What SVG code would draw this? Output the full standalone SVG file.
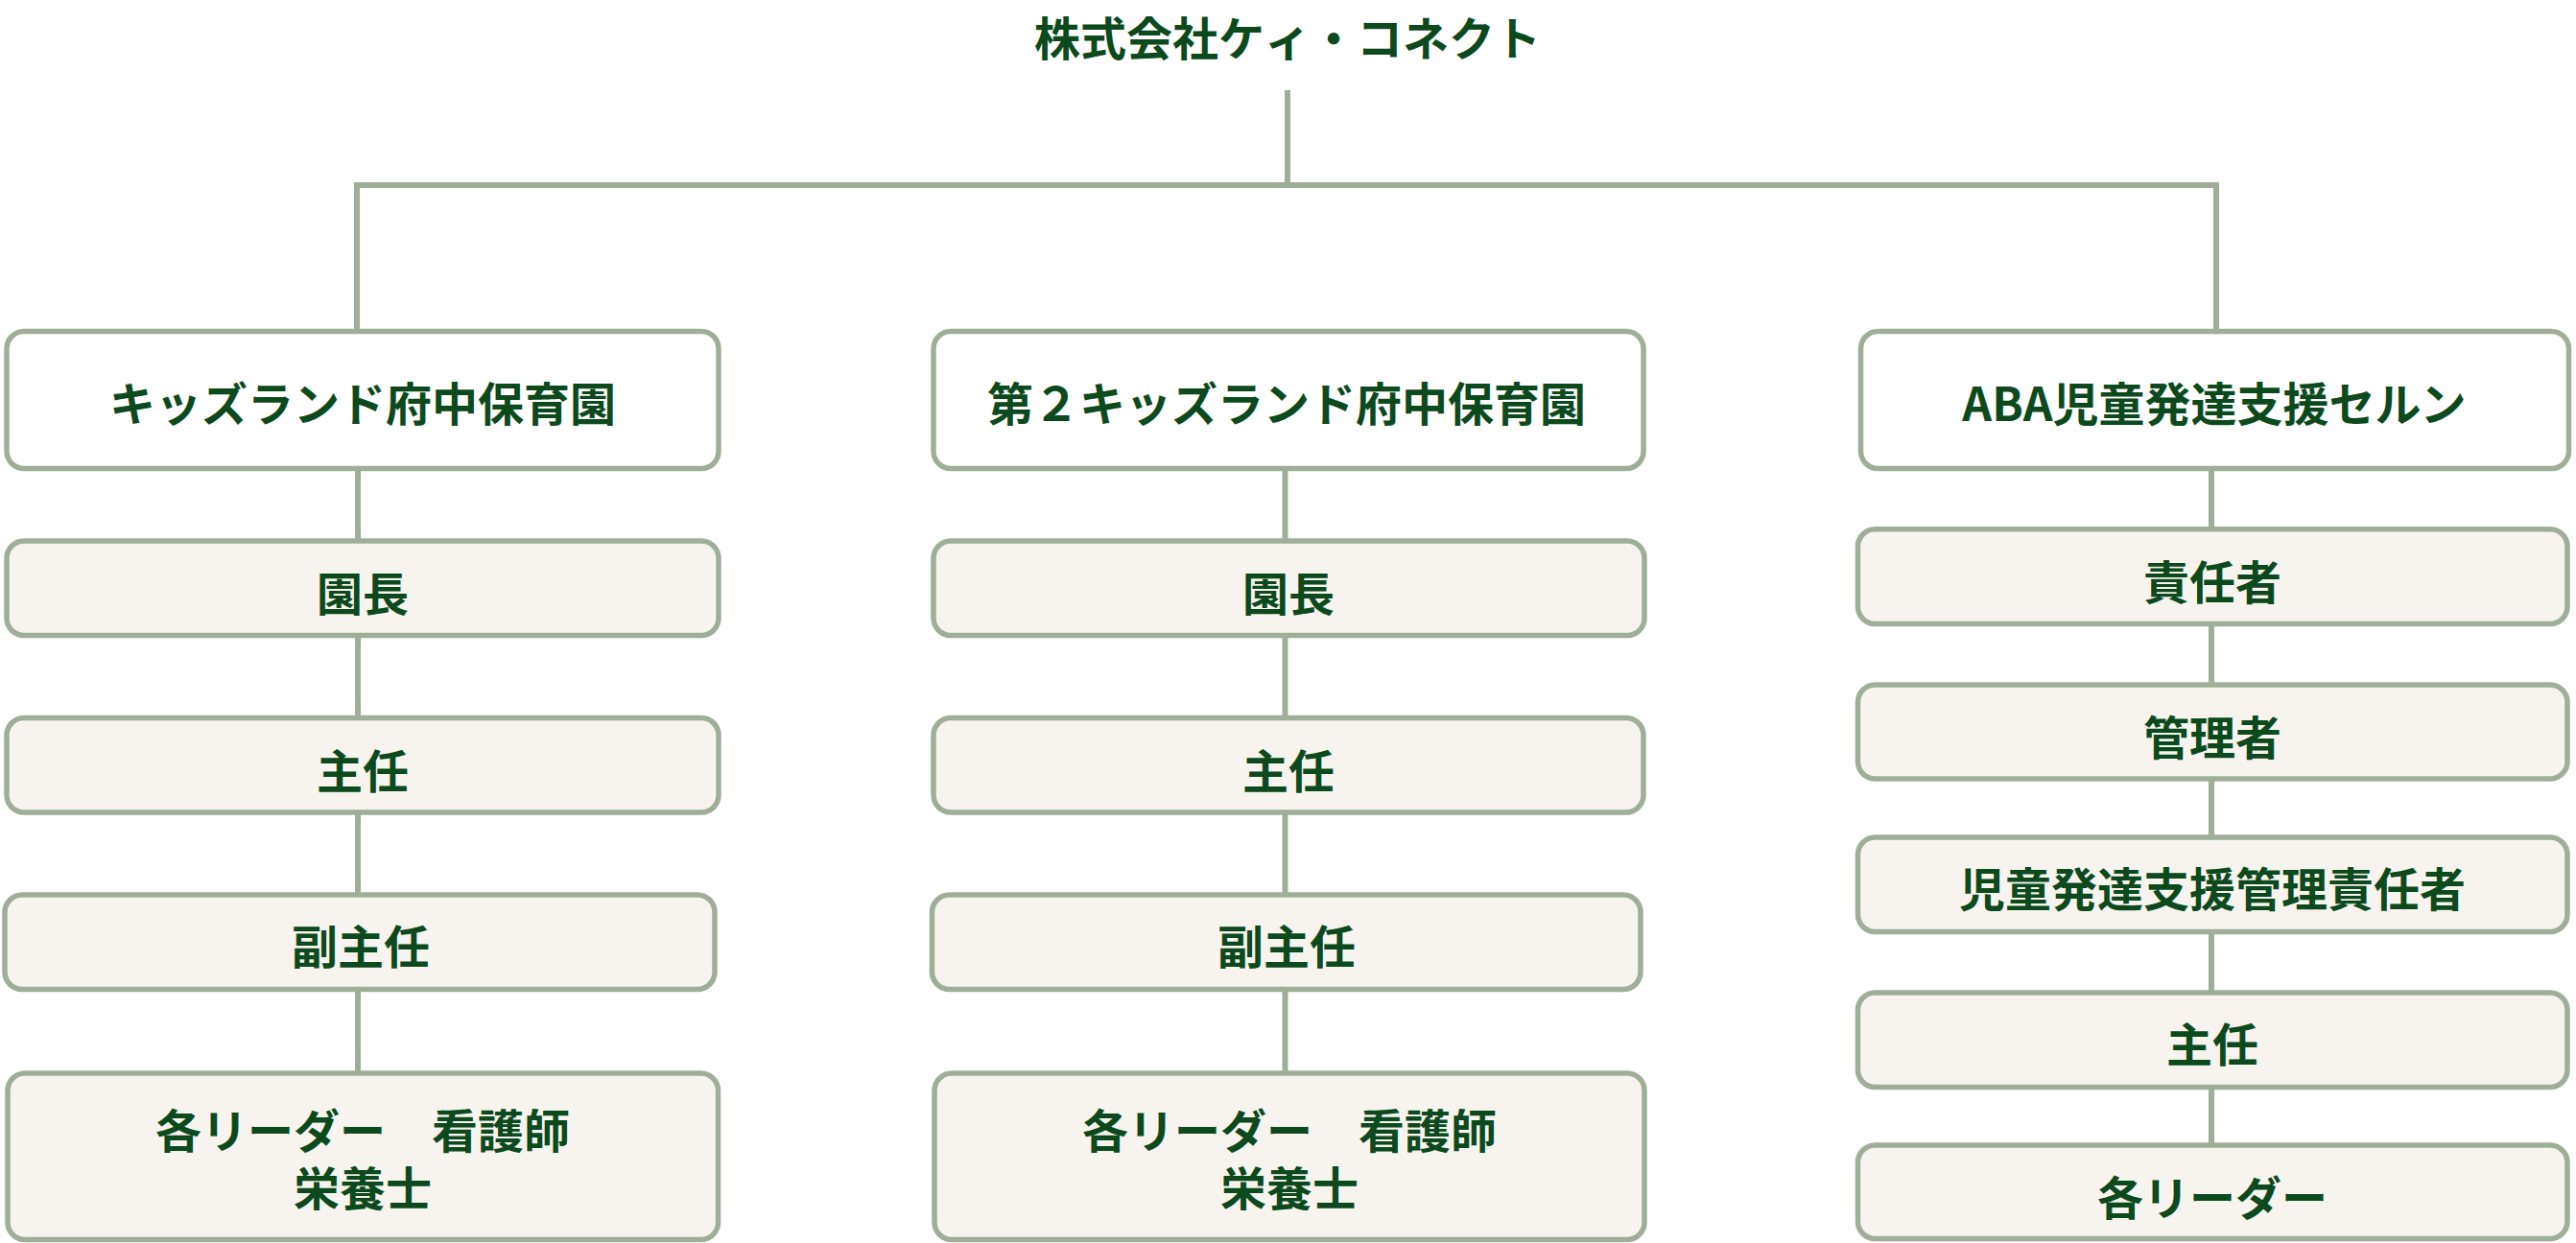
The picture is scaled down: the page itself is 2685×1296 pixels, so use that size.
<svg xmlns="http://www.w3.org/2000/svg" width="2685" height="1296" viewBox="0 0 2685 1296">
<style>
.t{font-family:"Noto Sans CJK JP","Noto Sans",sans-serif;font-weight:700;font-size:48px;fill:#0c4a1e;text-anchor:middle}
.top{fill:#ffffff;stroke:#9fae98;stroke-width:5.5}
.sub{fill:#f7f4ef;stroke:#9fae98;stroke-width:5.5}
.ln{fill:none;stroke:#9fae98;stroke-width:6}
</style>
<rect width="2685" height="1296" fill="#ffffff"/>
<g id="connectors">
<path class="ln" d="M372,343 V193 H2310 V343"/>
<path class="ln" d="M1342,94 V193"/>
<path class="ln" d="M373,489 V1119"/>
<path class="ln" d="M1339.5,489 V1119"/>
<path class="ln" d="M2305,489 V1194"/>
</g>
<g id="company"><text class="t" x="1342" y="58">株式会社ケィ・コネクト</text></g>
<g id="kids1">
<rect class="top" x="7" y="345.5" width="742" height="143" rx="18"/>
<text class="t" x="378" y="439">キッズランド府中保育園</text>
</g>
<g id="kids1-encho">
<rect class="sub" x="7" y="564" width="742" height="98.5" rx="18"/>
<text class="t" x="378" y="637">園長</text>
</g>
<g id="kids1-shunin">
<rect class="sub" x="7" y="748.5" width="742" height="98.5" rx="18"/>
<text class="t" x="378" y="821.5">主任</text>
</g>
<g id="kids1-fukushunin">
<rect class="sub" x="5" y="933" width="740" height="98.5" rx="18"/>
<text class="t" x="376" y="1005">副主任</text>
</g>
<g id="kids1-leaders">
<rect class="sub" x="8" y="1119" width="740.5" height="173.5" rx="18"/>
<text class="t" x="378" y="1197"><tspan x="378" y="1197">各リーダー　看護師</tspan><tspan x="378" y="1257">栄養士</tspan></text>
</g>
<g id="kids2">
<rect class="top" x="973" y="345.5" width="740" height="143" rx="18"/>
<text class="t" x="1341" y="439">第２キッズランド府中保育園</text>
</g>
<g id="kids2-encho">
<rect class="sub" x="973" y="564" width="741" height="98.5" rx="18"/>
<text class="t" x="1343" y="637">園長</text>
</g>
<g id="kids2-shunin">
<rect class="sub" x="973" y="748.5" width="740" height="98.5" rx="18"/>
<text class="t" x="1343" y="821.5">主任</text>
</g>
<g id="kids2-fukushunin">
<rect class="sub" x="971.5" y="933" width="738.5" height="98.5" rx="18"/>
<text class="t" x="1341" y="1005">副主任</text>
</g>
<g id="kids2-leaders">
<rect class="sub" x="974" y="1119" width="740" height="173.5" rx="18"/>
<text class="t" x="1344" y="1197"><tspan x="1344" y="1197">各リーダー　看護師</tspan><tspan x="1344" y="1257">栄養士</tspan></text>
</g>
<g id="aba">
<rect class="top" x="1939.5" y="345.5" width="738" height="143" rx="18"/>
<text class="t" x="2308" y="439">ABA児童発達支援セルン</text>
</g>
<g id="aba-sekininsha">
<rect class="sub" x="1936.5" y="551.7" width="739.5" height="98.8" rx="18"/>
<text class="t" x="2306" y="625">責任者</text>
</g>
<g id="aba-kanrisha">
<rect class="sub" x="1936.5" y="714" width="739.5" height="98" rx="18"/>
<text class="t" x="2306" y="786.5">管理者</text>
</g>
<g id="aba-jihatsukan">
<rect class="sub" x="1936.5" y="873" width="739.5" height="98.5" rx="18"/>
<text class="t" x="2306" y="945">児童発達支援管理責任者</text>
</g>
<g id="aba-shunin">
<rect class="sub" x="1936.5" y="1035" width="739.5" height="98.5" rx="18"/>
<text class="t" x="2306" y="1107">主任</text>
</g>
<g id="aba-leaders">
<rect class="sub" x="1936.5" y="1194" width="739.5" height="97.5" rx="18"/>
<text class="t" x="2306" y="1267">各リーダー</text>
</g>
</svg>
